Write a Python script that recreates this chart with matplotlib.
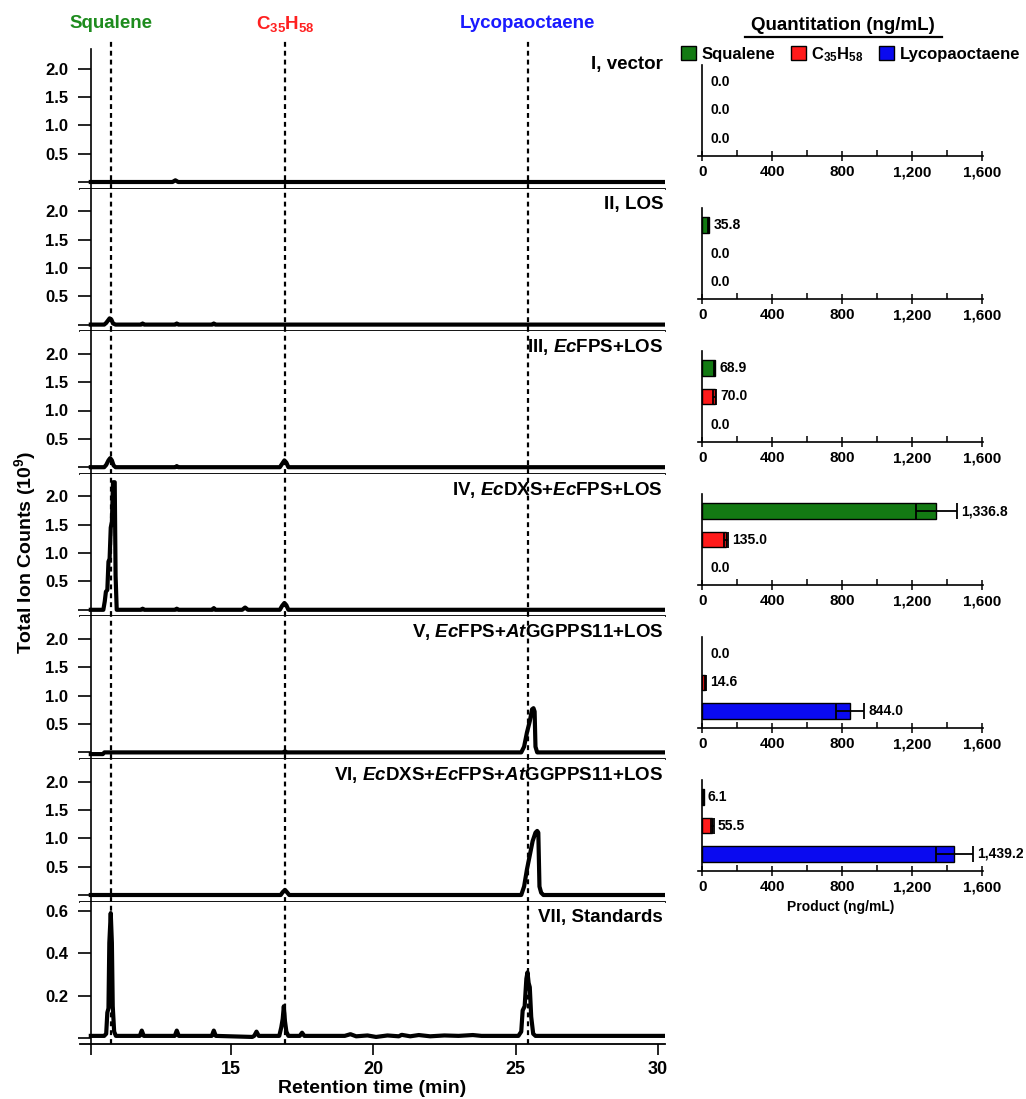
import numpy as np
import matplotlib
matplotlib.use('Agg')
import matplotlib.pyplot as plt
from matplotlib.patches import Patch
from matplotlib.lines import Line2D

plt.rcParams['font.family'] = ['Liberation Sans', 'DejaVu Sans']
plt.rcParams['font.weight'] = 'bold'
plt.rcParams['mathtext.fontset'] = 'custom'
plt.rcParams['mathtext.rm'] = 'Liberation Sans:bold'
plt.rcParams['mathtext.it'] = 'Liberation Sans:italic:bold'
plt.rcParams['mathtext.bf'] = 'Liberation Sans:bold'

# ---- chromatogram traces (retention time, TIC in 1e9) ----
t_I = [10.08, 12.95, 13.05, 13.15, 30.25]
y_I = [0.0, 0.0, 0.03, 0.0, 0.0]

t_II = [10.08, 10.55, 10.62, 10.68, 10.74, 10.8, 10.86, 10.95, 11.85, 11.9, 11.95,
        13.05, 13.1, 13.15, 14.35, 14.4, 14.45, 30.25]
y_II = [0.0, 0.0, 0.03, 0.07, 0.11, 0.09, 0.02, 0.0, 0.0, 0.02, 0.0,
        0.0, 0.02, 0.0, 0.0, 0.02, 0.0, 0.0]

t_III = [10.08, 10.55, 10.62, 10.7, 10.76, 10.82, 10.88, 10.95, 13.05, 13.1, 13.15,
         16.72, 16.8, 16.88, 16.95, 17.02, 30.25]
y_III = [0.0, 0.0, 0.04, 0.12, 0.16, 0.12, 0.03, 0.0, 0.0, 0.02, 0.0,
         0.0, 0.06, 0.12, 0.08, 0.0, 0.0]

t_IV = [10.08, 10.52, 10.57, 10.61, 10.66, 10.7, 10.74, 10.78, 10.82, 10.86, 10.92,
        10.95, 10.99, 11.85, 11.9, 11.95, 13.05, 13.1, 13.15, 14.35, 14.4, 14.45,
        15.4, 15.5, 15.6, 16.72, 16.8, 16.88, 16.95, 17.02, 30.25]
y_IV = [0.0, 0.0, 0.15, 0.32, 0.35, 0.85, 0.9, 1.45, 1.55, 2.25, 2.25,
        0.6, 0.0, 0.0, 0.02, 0.0, 0.0, 0.02, 0.0, 0.0, 0.03, 0.0,
        0.0, 0.04, 0.0, 0.0, 0.07, 0.12, 0.08, 0.0, 0.0]

t_V = [10.08, 10.5, 10.56, 16.85, 16.9, 16.95, 25.2, 25.3, 25.4, 25.5, 25.58,
       25.63, 25.67, 25.7, 25.76, 30.25]
y_V = [-0.03, -0.03, 0.0, 0.0, 0.02, 0.0, 0.0, 0.1, 0.35, 0.55, 0.76,
       0.78, 0.72, 0.1, 0.0, 0.0]

t_VI = [10.08, 16.75, 16.82, 16.9, 16.97, 17.05, 25.2, 25.3, 25.4, 25.5, 25.6,
        25.7, 25.76, 25.8, 25.84, 25.9, 25.98, 30.25]
y_VI = [0.0, 0.0, 0.05, 0.09, 0.05, 0.0, 0.0, 0.15, 0.45, 0.7, 0.95,
        1.1, 1.13, 1.1, 0.15, 0.04, 0.0, 0.0]

t_VII = [10.08, 10.55, 10.62, 10.66, 10.7, 10.73, 10.78, 10.82, 10.85, 10.9, 10.96,
         11.8, 11.87, 11.94, 13.03, 13.1, 13.17, 14.33, 14.4, 14.47, 15.75, 15.82,
         15.9, 15.98, 16.7, 16.77, 16.82, 16.86, 16.9, 16.95, 17.02, 17.42, 17.5,
         17.58, 19.0, 19.2, 19.4, 19.8, 20.1, 20.5, 20.9, 21.0, 21.3, 21.6, 22.0,
         22.5, 23.0, 23.5, 23.8, 25.1, 25.2, 25.25, 25.32, 25.38, 25.42, 25.46,
         25.5, 25.55, 25.62, 25.7, 30.25]
y_VII = [0.01, 0.01, 0.02, 0.12, 0.14, 0.45, 0.59, 0.45, 0.15, 0.03, 0.01,
         0.01, 0.035, 0.01, 0.01, 0.035, 0.01, 0.01, 0.035, 0.01, 0.005, 0.01,
         0.03, 0.01, 0.01, 0.05, 0.09, 0.15, 0.08, 0.03, 0.01, 0.01, 0.025,
         0.01, 0.01, 0.018, 0.008, 0.012, 0.005, 0.012, 0.008, 0.015, 0.008, 0.014, 0.008,
         0.012, 0.01, 0.014, 0.01, 0.01, 0.03, 0.13, 0.15, 0.28, 0.31, 0.26,
         0.24, 0.1, 0.02, 0.01, 0.01]

traces_t = [t_I, t_II, t_III, t_IV, t_V, t_VI, t_VII]
traces_y = [y_I, y_II, y_III, y_IV, y_V, y_VI, y_VII]

panel_names = ['I, vector', 'II, LOS', 'III, $Ec$FPS+LOS', 'IV, $Ec$DXS+$Ec$FPS+LOS',
               'V, $Ec$FPS+$At$GGPPS11+LOS', 'VI, $Ec$DXS+$Ec$FPS+$At$GGPPS11+LOS',
               'VII, Standards']

# retention times of the standards (dashed lines)
compounds = ['Squalene', 'C$_{35}$H$_{58}$', 'Lycopaoctaene']
compound_rt = [10.78, 16.9, 25.43]
text_colors = ['#1e8c1e', '#ff2020', '#1a1aff']
bar_colors = ['#137a13', '#ff1a1a', '#0a0af0']

# ---- quantitation (ng/mL): squalene, C35H58, lycopaoctaene ----
quant = [[0.0, 0.0, 0.0],
         [35.8, 0.0, 0.0],
         [68.9, 70.0, 0.0],
         [1336.8, 135.0, 0.0],
         [0.0, 14.6, 844.0],
         [6.1, 55.5, 1439.2]]
quant_err = [[0, 0, 0],
             [4, 0, 0],
             [5, 8, 0],
             [115, 12, 0],
             [0, 3, 80],
             [1, 8, 105]]
bar_ticks = [0, 400, 800, 1200, 1600]

W, H = 1026, 1099
fig = plt.figure(figsize=(W / 100, H / 100), dpi=100)


def px_rect(x0, y0, x1, y1):
    return [x0 / W, 1 - y1 / H, (x1 - x0) / W, (y1 - y0) / H]


x_lo, x_hi = 9.70, 30.25
spine_x = 10.08
top_px = 49
sep = [188.5 + 142.6 * k for k in range(6)]
chrom_axes = []
for k in range(7):
    y0 = top_px if k == 0 else sep[k - 1]
    if k < 6:
        y1 = sep[k]
        base = y1 - 6.5
        scale = 56.7
    else:
        y1 = 1044
        base = 1038
        scale = 211.7
    ax = fig.add_axes(px_rect(80, y0, 665, y1))
    ax.set_xlim(x_lo, x_hi)
    ax.set_ylim(-(y1 - base) / scale, (base - y0) / scale)
    ax.plot(traces_t[k], traces_y[k], color='black', lw=3.0, zorder=3,
            solid_joinstyle='round')
    for rt in compound_rt:
        ax.axvline(rt, ymin=0, ymax=1 + (11 / (y1 - y0) if k == 0 else 0),
                   color='black', lw=1.6, linestyle=(0, (2.2, 1.8)), zorder=2,
                   clip_on=False)
    ax.spines['top'].set_visible(False)
    ax.spines['right'].set_visible(False)
    ax.spines['left'].set_position(('data', spine_x))
    ax.spines['left'].set_linewidth(1.2)
    ax.spines['bottom'].set_linewidth(1.3)
    if k < 6:
        ax.set_yticks([0, 0.5, 1.0, 1.5, 2.0])
        ax.set_yticklabels(['', '0.5', '1.0', '1.5', '2.0'])
        ax.tick_params(axis='x', bottom=False, labelbottom=False)
    else:
        ax.set_yticks([0, 0.2, 0.4, 0.6])
        ax.set_yticklabels(['', '0.2', '0.4', '0.6'])
        ax.set_xticks([spine_x, 15, 20, 25, 30])
        ax.set_xticklabels(['', '15', '20', '25', '30'])
        ax.tick_params(axis='x', direction='out', length=8, width=1.2,
                       labelsize=13, pad=4)
        ax.set_xlabel('Retention time (min)', fontsize=14, fontweight='bold', labelpad=2)
    ax.tick_params(axis='y', direction='out', length=9.4, width=1.2,
                   labelsize=12, pad=7)
    ax.annotate(panel_names[k], xy=(0.9966, 1), xycoords='axes fraction',
                xytext=(0, -11.5), textcoords='offset points',
                ha='right', va='center', fontsize=13.5, fontweight='bold')
    chrom_axes.append(ax)

for name, rt, c in zip(compounds, compound_rt, text_colors):
    chrom_axes[0].annotate(name, xy=(rt, 1), xycoords=('data', 'axes fraction'),
                           xytext=(0, 18), textcoords='offset points',
                           ha='center', va='center', fontsize=13.5,
                           fontweight='bold', color=c)

fig.text(25 / W, 1 - 552 / H, 'Total Ion Counts (10$^{9}$)', rotation=90,
         ha='center', va='center', fontsize=14, fontweight='bold')

# ---- bar panels ----
rows = [2, 1, 0]
for k in range(6):
    axis_px = 156 + 143 * k
    bx = fig.add_axes(px_rect(698, axis_px - 91, 983, axis_px))
    bx.set_xlim(-25.7, 1602.9)
    bx.set_ylim(-0.6, 2.6)
    for j in range(3):
        v = quant[k][j]
        e = quant_err[k][j]
        if v > 0:
            bx.barh(rows[j], v, height=0.56, color=bar_colors[j],
                    edgecolor='black', linewidth=1.0, zorder=2)
        if e > 0:
            bx.errorbar(v, rows[j], xerr=e, fmt='none', ecolor='black',
                        elinewidth=1.3, capsize=6, capthick=1.3, zorder=3)
        off = 3 if v > 0 else 5.5
        bx.annotate(f'{v:,.1f}', xy=(v + e, rows[j]), xytext=(off, 0),
                    textcoords='offset points', ha='left', va='center',
                    fontsize=10, fontweight='bold')
    bx.spines['top'].set_visible(False)
    bx.spines['right'].set_visible(False)
    bx.spines['left'].set_position(('data', 0))
    bx.spines['left'].set_linewidth(1.2)
    bx.spines['bottom'].set_linewidth(1.2)
    bx.set_yticks([])
    bx.set_xticks(bar_ticks)
    bx.set_xticklabels([f'{t:,}' for t in bar_ticks])
    bx.set_xticks([200, 600, 1000, 1400], minor=True)
    bx.tick_params(axis='x', which='major', direction='inout', length=7,
                   width=1.1, labelsize=11, pad=3)
    bx.tick_params(axis='x', which='minor', direction='in', length=4, width=1.1)
    if k == 5:
        bx.set_xlabel('Product (ng/mL)', fontsize=10, fontweight='bold', labelpad=4)

fig.text(843 / W, 1 - 25 / H, 'Quantitation (ng/mL)', ha='center', va='center',
         fontsize=13.5, fontweight='bold')
fig.add_artist(Line2D([745 / W, 942 / W], [1 - 37 / H, 1 - 37 / H],
                      transform=fig.transFigure, color='black', lw=1.6))

handles = [Patch(facecolor=c, edgecolor='black', linewidth=1.0) for c in bar_colors]
fig.legend(handles, compounds, loc='center left', bbox_to_anchor=(681 / W, 1 - 54.5 / H),
           ncol=3, frameon=False, fontsize=12, handlelength=0.9, handleheight=0.9,
           handletextpad=0.35, columnspacing=0.9, borderpad=0, borderaxespad=0)

fig.savefig('out.png', dpi=100)
